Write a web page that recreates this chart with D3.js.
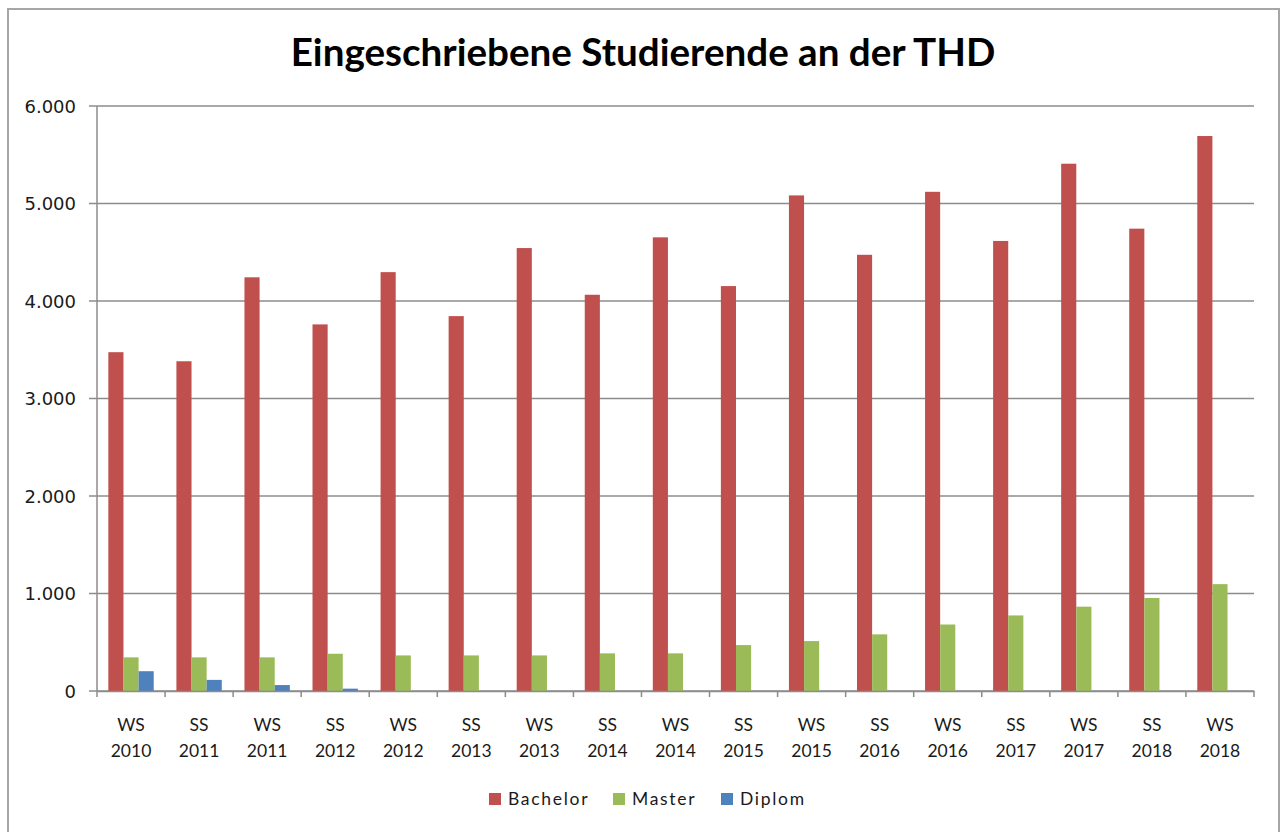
<!DOCTYPE html>
<html><head><meta charset="utf-8">
<script src="https://cdn.jsdelivr.net/npm/d3@7"></script>
<style>body{margin:0;background:#fff}svg{display:block}</style>
</head><body>
<svg id="chart" width="1282" height="832"></svg>
<script>
const categories = ["WS 2010","SS 2011","WS 2011","SS 2012","WS 2012","SS 2013","WS 2013","SS 2014","WS 2014","SS 2015","WS 2015","SS 2016","WS 2016","SS 2017","WS 2017","SS 2018","WS 2018"];
const seriesNames = ["Bachelor","Master","Diplom"];
const bachelor = [3475,3382,4243,3760,4296,3845,4543,4064,4653,4153,5083,4474,5120,4616,5408,4742,5692];
const master   = [345,345,345,382,365,365,365,386,386,471,512,581,682,775,865,954,1096];
const diplom   = [203,114,61,24,0,0,0,0,0,0,0,0,0,0,0,0,0];
const yTicks = [0,1000,2000,3000,4000,5000,6000];
const colors = ["#C0504D","#9BBB59","#4F81BD"];
const title = "Eingeschriebene Studierende an der THD";

const seriesValues = [bachelor, master, diplom];
const svg = d3.select("#chart");
const plot = {left: 97, right: 1254, top: 106, bottom: 691};

// outer border
svg.append("rect").attr("x", 8).attr("y", 9).attr("width", 1271).attr("height", 840)
  .attr("fill", "#fff").attr("stroke", "#a6a6a6").attr("stroke-width", 2);

const de = d3.formatLocale({decimal: ",", thousands: ".", grouping: [3], currency: ["", "€"]});
const fmt = de.format(",d");

const x = d3.scaleBand().domain(categories).range([plot.left, plot.right]).padding(0);
const step = x.bandwidth();
const groupW = step * 3 / 4.5;
const xs = d3.scaleBand().domain(seriesNames).range([(step - groupW) / 2, (step + groupW) / 2]).padding(0);
const y = d3.scaleLinear().domain([0, 6000]).range([plot.bottom, plot.top]);

// gridlines
svg.append("g").selectAll("line").data(yTicks).join("line")
  .attr("x1", plot.left - 8).attr("x2", plot.right)
  .attr("y1", d => y(d)).attr("y2", d => y(d))
  .attr("stroke", "#8c8c8c").attr("stroke-width", 1.5);

// y axis labels
const yAxis = d3.axisLeft(y).tickValues(yTicks).tickFormat(fmt).tickSize(0).tickPadding(0);
const gy = svg.append("g").attr("transform", `translate(${76},0)`).call(yAxis);
gy.select(".domain").remove();
gy.selectAll("text").attr("font-family", "DejaVu Sans, Verdana, sans-serif").attr("font-size", 18)
  .attr("fill", "#1a1a1a").attr("dy", "0.35em");

// y axis line
svg.append("line").attr("x1", plot.left).attr("x2", plot.left).attr("y1", plot.top).attr("y2", plot.bottom)
  .attr("stroke", "#8c8c8c").attr("stroke-width", 1.5);

// bars
const data = [];
categories.forEach((c, i) => seriesNames.forEach((s, j) => data.push({c, s, v: seriesValues[j][i], color: colors[j]})));
svg.append("g").selectAll("rect").data(data.filter(d => d.v > 0)).join("rect")
  .attr("x", d => x(d.c) + xs(d.s))
  .attr("width", xs.bandwidth())
  .attr("y", d => y(d.v))
  .attr("height", d => y(0) - y(d.v))
  .attr("fill", d => d.color);

// x axis
const xAxis = d3.axisBottom(x).tickSize(0).tickFormat("");
const gx = svg.append("g").attr("transform", `translate(0,${plot.bottom})`).call(xAxis);
gx.select(".domain").attr("stroke", "#8c8c8c").attr("stroke-width", 1.5);
const bounds = categories.map(c => x(c)).concat([plot.right]);
svg.append("g").selectAll("line").data(bounds).join("line")
  .attr("x1", d => d).attr("x2", d => d).attr("y1", plot.bottom).attr("y2", plot.bottom + 6)
  .attr("stroke", "#8c8c8c").attr("stroke-width", 1.5);

// x labels (two lines)
const xl = svg.append("g").selectAll("text").data(categories).join("text")
  .attr("x", d => x(d) + step / 2)
  .attr("text-anchor", "middle")
  .attr("font-family", "Lato, Open Sans, sans-serif").attr("font-size", 17.5).attr("fill", "#1a1a1a");
xl.append("tspan").attr("x", d => x(d) + step / 2).attr("y", 731).text(d => d.split(" ")[0]);
xl.append("tspan").attr("x", d => x(d) + step / 2).attr("y", 757).text(d => d.split(" ")[1]);

// title
const t = svg.append("text").attr("x", 643).attr("y", 66).attr("text-anchor", "middle")
  .attr("font-family", "Lato, sans-serif").attr("font-weight", "bold").attr("font-size", 32)
  .attr("fill", "#000").text(title);
const tw = t.node().getComputedTextLength();
t.attr("font-size", 32 * 705 / tw);

// legend
const legendX = [489, 613, 721];
const lg = svg.append("g").selectAll("g").data(seriesNames).join("g")
  .attr("transform", (d, i) => `translate(${legendX[i]},793)`);
lg.append("rect").attr("width", 12).attr("height", 12).attr("fill", (d, i) => colors[i]);
lg.append("text").attr("x", 19).attr("y", 12).text(d => d)
  .attr("font-family", "Lato, Open Sans, sans-serif").attr("font-size", 17.5)
  .attr("letter-spacing", 1.7).attr("fill", "#1a1a1a");
</script>
</body></html>
